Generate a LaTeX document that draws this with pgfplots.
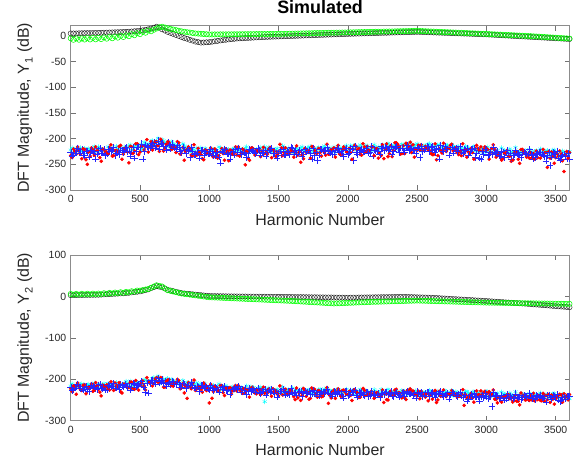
\documentclass[border=0pt]{standalone}
\usepackage{fontspec}
\setmainfont{Liberation Sans}
\usepackage{pgfplots}
\usepackage{pgfplotstable}
\pgfplotsset{compat=1.18}
\definecolor{mgreen}{rgb}{0,1,0}
\definecolor{mcyan}{rgb}{0,1,1}
\definecolor{mred}{rgb}{1,0,0}
\definecolor{mblue}{rgb}{0,0,1}

% k  black  green  cyan  red  blue   (top panel, Y1)
\pgfplotstableread{
k b g c r u
0 5 -4.5 -222 -233 -227
20 5 -7.5 -227 -220 -232
40 5 -4.6 -219 -230 -225
60 5.3 -7.4 -223 -224 -228
80 5.4 -4.7 -224 -239 -221
100 5.5 -7.0 -219 -221 -233
120 5.6 -4.1 -227 -250 -225
140 5.7 -6.8 -222 -234 -227
160 5.8 -3.7 -219 -222 -229
180 5.9 -6.6 -224 -216 -240
200 6 -3.5 -216 -229 -222
220 6.2 -6.1 -223 -244 -228
240 6.4 -2.7 -222 -221 -221
260 6.6 -5.3 -226 -226 -230
280 6.8 -1.9 -219 -218 -224
300 7 -4.5 -218 -234 -222
320 7.2 -0.9 -224 -223 -233
340 7.4 -3.3 -220 -229 -225
360 7.6 0.3 -216 -213 -222
380 7.8 -2.1 -222 -230 -227
400 8 1.5 -220 -223 -217
420 8.4 -0.5 -214 -247 -224
440 8.8 3.5 -222 -216 -226
460 9.2 1.5 -215 -224 -238
480 9.6 5.5 -216 -210 -216
500 10 3.5 -211 -226 -217
520 11 7.9 -219 -214 -240
540 12 6.3 -211 -216 -212
560 13 10.7 -211 -226 -217
580 14.5 9.1 -205 -206 -213
600 16 12 -210 -214 -207
620 18 14.5 -205 -206 -214
640 16 17 -209 -225 -220
660 13 18 -202 -207 -209
680 10.5 16.5 -208 -219 -214
700 8 15 -211 -206 -208
720 6 13.8 -215 -216 -220
740 4 12.6 -210 -215 -216
760 2 11.4 -214 -227 -220
780 0 10.2 -214 -208 -217
800 -2 9 -222 -225 -228
820 -4 8.2 -214 -242 -222
840 -5.5 7.4 -219 -221 -220
860 -7.5 6.6 -223 -219 -237
880 -9 5.8 -220 -234 -225
900 -11 5 -227 -227 -231
920 -12 4.6 -224 -219 -227
940 -13 4.2 -218 -231 -223
960 -12.7 3.8 -225 -241 -232
980 -12.3 3.4 -222 -223 -228
1000 -12 3 -228 -228 -229
1020 -11.2 3 -223 -233 -225
1040 -10.4 3.1 -221 -220 -234
1060 -9.6 3.1 -226 -238 -226
1080 -8.8 3.2 -219 -226 -247
1100 -8 3.2 -223 -229 -226
1120 -7.4 3.2 -226 -220 -223
1140 -6.8 3.3 -221 -243 -229
1160 -6.2 3.3 -224 -223 -227
1180 -5.6 3.4 -219 -228 -232
1200 -5 3.4 -221 -232 -226
1220 -4.7 3.4 -222 -234 -227
1240 -4.4 3.5 -221 -220 -226
1260 -4.1 3.5 -218 -251 -228
1280 -3.8 3.6 -223 -238 -229
1300 -3.5 3.6 -224 -219 -221
1320 -3.2 3.6 -222 -224 -223
1340 -2.9 3.7 -221 -222 -227
1360 -2.6 3.7 -226 -220 -223
1380 -2.3 3.8 -223 -224 -228
1400 -2 3.8 -216 -229 -222
1420 -1.8 3.8 -221 -230 -226
1440 -1.6 3.9 -223 -217 -223
1460 -1.4 3.9 -220 -221 -229
1480 -1.2 4 -222 -235 -228
1500 -1 4 -225 -225 -229
1520 -0.8 4.1 -219 -218 -232
1540 -0.6 4.2 -218 -227 -231
1560 -0.4 4.4 -226 -226 -224
1580 -0.2 4.5 -227 -227 -231
1600 0 4.6 -222 -225 -219
1620 0.2 4.7 -221 -226 -222
1640 0.4 4.8 -221 -232 -227
1660 0.6 5 -218 -246 -226
1680 0.8 5.1 -223 -239 -230
1700 1 5.2 -221 -227 -224
1720 1.2 5.3 -216 -227 -222
1740 1.4 5.4 -223 -215 -239
1760 1.6 5.6 -224 -223 -233
1780 1.8 5.7 -219 -228 -242
1800 2 5.8 -223 -227 -220
1820 2.2 5.9 -218 -223 -224
1840 2.4 6 -218 -232 -223
1860 2.6 6.2 -220 -230 -222
1880 2.8 6.3 -222 -221 -225
1900 3 6.4 -216 -218 -230
1920 3.2 6.5 -220 -219 -219
1940 3.4 6.6 -222 -230 -227
1960 3.6 6.8 -226 -221 -230
1980 3.8 6.9 -215 -220 -222
2000 4 7 -225 -228 -231
2020 4.2 7.1 -214 -227 -219
2040 4.3 7.2 -214 -221 -242
2060 4.5 7.4 -222 -215 -227
2080 4.6 7.5 -216 -219 -226
2100 4.8 7.6 -216 -232 -220
2120 5 7.7 -222 -216 -226
2140 5.1 7.8 -214 -215 -222
2160 5.3 8 -222 -223 -227
2180 5.4 8.1 -220 -216 -234
2200 5.6 8.2 -222 -222 -223
2220 5.8 8.3 -216 -238 -224
2240 5.9 8.4 -218 -233 -215
2260 6.1 8.6 -218 -239 -223
2280 6.2 8.7 -213 -210 -219
2300 6.4 8.8 -214 -229 -220
2320 6.6 8.9 -219 -235 -230
2340 6.7 9 -214 -208 -217
2360 6.9 9.2 -216 -211 -219
2380 7 9.3 -218 -230 -218
2400 7.2 9.4 -212 -214 -226
2420 7.4 9.5 -212 -209 -218
2440 7.5 9.6 -214 -215 -223
2460 7.7 9.8 -213 -227 -218
2480 7.8 9.9 -214 -236 -222
2500 8 10 -210 -223 -216
2520 7.8 9.8 -214 -223 -237
2540 7.6 9.5 -220 -221 -225
2560 7.4 9.3 -214 -215 -220
2580 7.2 9 -211 -222 -217
2600 7 8.8 -213 -229 -217
2620 6.8 8.6 -216 -231 -222
2640 6.6 8.3 -213 -241 -221
2660 6.4 8.1 -212 -219 -240
2680 6.2 7.8 -216 -228 -221
2700 6 7.6 -217 -220 -214
2720 5.8 7.4 -213 -218 -220
2740 5.6 7.1 -218 -213 -221
2760 5.4 6.9 -215 -224 -228
2780 5.2 6.6 -219 -218 -218
2800 5 6.4 -216 -231 -222
2820 4.8 6.2 -220 -233 -226
2840 4.6 5.9 -219 -229 -221
2860 4.4 5.7 -221 -236 -218
2880 4.2 5.4 -220 -229 -225
2900 4 5.2 -223 -227 -220
2920 3.8 5 -223 -219 -237
2940 3.6 4.7 -225 -219 -222
2960 3.4 4.5 -224 -216 -240
2980 3.2 4.2 -227 -221 -231
3000 3 4 -224 -219 -221
3020 2.7 3.7 -224 -240 -231
3040 2.4 3.5 -226 -219 -231
3060 2.1 3.2 -222 -221 -227
3080 1.8 2.9 -223 -228 -224
3100 1.5 2.7 -229 -232 -235
3120 1.2 2.4 -226 -238 -226
3140 0.9 2.1 -228 -228 -226
3160 0.6 1.9 -227 -235 -232
3180 0.3 1.6 -228 -244 -239
3200 0 1.3 -228 -228 -232
3220 -0.3 1.1 -226 -225 -229
3240 -0.6 0.8 -227 -248 -232
3260 -0.9 0.5 -227 -221 -227
3280 -1.2 0.3 -223 -228 -229
3300 -1.5 0 -230 -230 -231
3320 -1.8 -0.3 -226 -227 -231
3340 -2.1 -0.7 -230 -229 -239
3360 -2.4 -1 -223 -224 -231
3380 -2.7 -1.3 -226 -228 -227
3400 -3 -1.7 -227 -233 -230
3420 -3.3 -2 -225 -228 -235
3440 -3.6 -2.3 -223 -256 -233
3460 -3.9 -2.7 -227 -238 -252
3480 -4.2 -3 -222 -235 -227
3500 -4.5 -3.3 -226 -237 -231
3520 -4.8 -3.7 -234 -234 -238
3540 -5.1 -4 -235 -230 -239
3560 -5.4 -4.3 -227 -264 -230
3580 -5.7 -4.7 -226 -225 -239
3600 -6 -5 -225 -227 -239
}\dataA

% second set of noise points between the rows above (top panel)
\pgfplotstableread{
h c r u
10 -218 -237 -234
30 -226 -224 -228
50 -222 -216 -218
70 -218 -230 -228
90 -227 -220 -232
110 -222 -241 -224
130 -219 -226 -236
150 -224 -218 -222
170 -215 -232 -225
190 -225 -223 -230
210 -219 -237 -219
230 -222 -220 -228
250 -227 -226 -233
270 -216 -229 -221
290 -219 -212 -225
310 -222 -233 -216
330 -215 -223 -228
350 -223 -215 -231
370 -219 -240 -222
390 -216 -219 -219
410 -218 -226 -225
430 -212 -215 -234
450 -221 -229 -216
470 -213 -210 -225
490 -215 -231 -216
510 -219 -215 -210
530 -207 -222 -225
550 -211 -202 -215
570 -213 -216 -217
590 -204 -222 -209
610 -209 -206 -218
630 -199 -214 -204
650 -210 -201 -210
670 -204 -224 -214
690 -208 -211 -222
710 -216 -207 -212
730 -206 -221 -210
750 -213 -217 -218
770 -212 -206 -212
790 -219 -230 -225
810 -210 -217 -216
830 -219 -224 -229
850 -216 -216 -222
870 -226 -232 -216
890 -222 -212 -231
910 -218 -232 -228
930 -226 -227 -238
950 -222 -239 -222
970 -219 -222 -225
990 -228 -229 -230
1010 -224 -218 -220
1030 -221 -236 -233
1050 -227 -225 -227
1070 -216 -233 -236
1090 -225 -219 -224
1110 -219 -242 -220
1130 -222 -225 -230
1150 -230 -222 -239
1170 -220 -230 -225
1190 -223 -216 -221
1210 -223 -216 -218
1230 -221 -230 -231
1250 -226 -222 -227
1270 -216 -225 -237
1290 -224 -242 -221
1310 -219 -218 -224
1330 -228 -232 -229
1350 -222 -224 -219
1370 -217 -235 -232
1390 -225 -217 -226
1410 -220 -227 -234
1430 -217 -220 -222
1450 -226 -237 -219
1470 -222 -225 -229
1490 -219 -230 -238
1510 -225 -211 -224
1530 -214 -233 -220
1550 -223 -218 -232
1570 -218 -228 -226
1590 -221 -222 -216
1610 -229 -236 -227
1630 -219 -214 -231
1650 -222 -226 -223
1670 -216 -232 -235
1690 -224 -219 -221
1710 -219 -223 -224
1730 -216 -238 -229
1750 -225 -216 -218
1770 -220 -228 -227
1790 -217 -219 -232
1810 -222 -234 -221
1830 -214 -226 -225
1850 -224 -211 -216
1870 -218 -230 -228
1890 -221 -222 -231
1910 -225 -236 -222
1930 -215 -213 -219
1950 -218 -231 -225
1970 -221 -216 -235
1990 -214 -226 -218
2010 -222 -219 -228
2030 -219 -240 -221
2050 -215 -213 -215
2070 -217 -221 -231
2090 -212 -231 -222
2110 -222 -210 -225
2130 -214 -226 -218
2150 -218 -222 -228
2170 -223 -216 -215
2190 -212 -233 -222
2210 -217 -219 -225
2230 -220 -228 -231
2250 -212 -212 -219
2270 -218 -220 -216
2290 -209 -235 -222
2310 -221 -214 -215
2330 -213 -223 -225
2350 -215 -208 -215
2370 -222 -216 -227
2390 -211 -229 -218
2410 -213 -229 -226
2430 -219 -211 -213
2450 -208 -207 -220
2470 -217 -212 -223
2490 -212 -221 -229
2510 -215 -213 -218
2530 -223 -212 -215
2550 -213 -221 -221
2570 -216 -218 -214
2590 -210 -223 -225
2610 -218 -231 -215
2630 -214 -210 -227
2650 -212 -233 -219
2670 -221 -224 -212
2690 -216 -209 -225
2710 -213 -225 -221
2730 -219 -219 -232
2750 -211 -211 -216
2770 -222 -222 -220
2790 -216 -227 -225
2810 -219 -225 -215
2830 -225 -210 -229
2850 -215 -222 -223
2870 -218 -226 -232
2890 -222 -219 -221
2910 -215 -240 -218
2930 -223 -213 -228
2950 -221 -223 -238
2970 -218 -224 -224
2990 -221 -216 -221
3010 -216 -221 -233
3030 -226 -227 -227
3050 -219 -212 -217
3070 -224 -236 -229
3090 -229 -231 -233
3110 -218 -242 -225
3130 -223 -228 -237
3150 -226 -223 -223
3170 -220 -234 -228
3190 -226 -242 -233
3210 -217 -225 -222
3230 -229 -240 -231
3250 -223 -221 -237
3270 -225 -226 -226
3290 -232 -236 -230
3310 -221 -238 -221
3330 -226 -237 -233
3350 -225 -240 -237
3370 -230 -237 -229
3390 -220 -238 -226
3410 -228 -221 -232
3430 -224 -227 -243
3450 -233 -225 -226
3470 -227 -226 -236
3490 -222 -248 -229
3510 -230 -229 -224
3530 -227 -224 -241
3550 -224 -243 -232
3570 -233 -232 -235
3590 -229 -238 -229
}\noiseA

% k  black  green  cyan  red  blue   (bottom panel, Y2)
\pgfplotstableread{
k b g c r u
0 3 6 -216 -223 -219
20 3.1 4.1 -221 -216 -224
40 3.2 6.2 -214 -236 -216
60 3.3 4.3 -218 -217 -221
80 3.4 6.4 -211 -227 -222
100 3.5 4.5 -223 -213 -217
120 3.6 6.6 -214 -221 -224
140 3.7 4.7 -216 -218 -219
160 3.8 6.8 -219 -229 -217
180 3.9 4.9 -221 -208 -222
200 4 7 -212 -224 -214
220 4.4 5.4 -218 -240 -221
240 4.8 7.8 -210 -216 -219
260 5.2 6.2 -220 -213 -224
280 5.6 8.6 -214 -226 -217
300 6 7 -212 -218 -216
320 6.4 9.4 -222 -209 -221
340 6.8 7.8 -214 -221 -217
360 7.2 10.2 -211 -230 -213
380 7.6 8.6 -216 -212 -219
400 8 11 -205 -216 -216
420 8.8 9.8 -212 -220 -210
440 9.6 12.6 -215 -207 -219
460 10.4 11.4 -215 -224 -212
480 11.2 14.2 -207 -212 -215
500 12 14 -208 -215 -210
520 13.7 15.3 -213 -204 -217
540 15.3 16.7 -202 -226 -232
560 17 18 -206 -204 -233
580 20 21 -203 -208 -203
600 22.5 24 -196 -210 -207
620 25 27 -203 -196 -202
640 23.5 25.5 -211 -207 -208
660 22 24 -200 -203 -201
680 19 19.5 -204 -219 -206
700 16 15 -198 -202 -209
720 14.4 13.4 -210 -209 -213
740 12.8 11.8 -205 -217 -207
760 11.2 10.2 -210 -208 -212
780 9.6 8.6 -206 -203 -211
800 8 7 -217 -217 -219
820 7.3 6.1 -211 -233 -211
840 6.6 5.2 -208 -246 -215
860 5.9 4.3 -217 -217 -218
880 5.2 3.4 -211 -210 -214
900 4.5 2.5 -217 -227 -221
920 3.8 1.6 -214 -217 -219
940 3.1 0.7 -211 -224 -214
960 2.4 -0.2 -220 -209 -221
980 1.7 -1.1 -217 -227 -219
1000 1 -2 -219 -257 -226
1020 0.9 -2.3 -215 -246 -221
1040 0.8 -2.6 -225 -217 -220
1060 0.7 -2.9 -217 -226 -225
1080 0.6 -3.2 -225 -215 -219
1100 0.5 -3.5 -219 -232 -224
1120 0.4 -3.8 -216 -221 -227
1140 0.3 -4.1 -223 -225 -223
1160 0.2 -4.4 -221 -236 -226
1180 0.1 -4.7 -227 -219 -222
1200 0 -5 -221 -228 -224
1220 -0.1 -5.3 -222 -224 -225
1240 -0.1 -5.6 -222 -234 -225
1260 -0.2 -5.9 -224 -232 -222
1280 -0.3 -6.2 -226 -224 -228
1300 -0.3 -6.5 -218 -222 -229
1320 -0.4 -6.8 -220 -223 -227
1340 -0.5 -7.1 -225 -235 -227
1360 -0.5 -7.4 -221 -226 -232
1380 -0.6 -7.7 -226 -225 -229
1400 -0.7 -8 -254 -234 -224
1420 -0.7 -8.3 -226 -233 -229
1440 -0.8 -8.6 -223 -228 -231
1460 -0.9 -8.9 -230 -223 -229
1480 -0.9 -9.2 -229 -227 -231
1500 -1 -9.5 -230 -240 -234
1520 -1.1 -9.8 -233 -225 -228
1540 -1.2 -10.1 -233 -225 -228
1560 -1.2 -10.4 -226 -233 -236
1580 -1.3 -10.7 -233 -226 -237
1600 -1.4 -11 -221 -232 -232
1620 -1.5 -11.4 -225 -249 -232
1640 -1.6 -11.8 -230 -245 -232
1660 -1.6 -12.2 -229 -251 -229
1680 -1.7 -12.6 -233 -222 -234
1700 -1.8 -13 -228 -241 -233
1720 -1.9 -13.4 -226 -248 -228
1740 -2 -13.8 -234 -221 -235
1760 -2 -14.2 -237 -224 -236
1780 -2.1 -14.6 -234 -243 -231
1800 -2.2 -15 -224 -238 -235
1820 -2.3 -15.4 -229 -241 -231
1840 -2.4 -15.8 -228 -227 -231
1860 -2.4 -16.2 -227 -258 -233
1880 -2.5 -16.6 -230 -245 -235
1900 -2.6 -17 -236 -226 -230
1920 -2.7 -16.7 -225 -231 -234
1940 -2.8 -16.5 -233 -229 -236
1960 -2.8 -16.2 -236 -227 -240
1980 -2.9 -15.9 -228 -231 -229
2000 -3 -15.6 -237 -237 -239
2020 -2.9 -15.4 -226 -239 -229
2040 -2.8 -15.1 -235 -226 -230
2060 -2.7 -14.8 -235 -230 -238
2080 -2.6 -14.5 -234 -244 -232
2100 -2.5 -14.2 -228 -234 -232
2120 -2.4 -14 -235 -227 -239
2140 -2.3 -13.7 -231 -236 -231
2160 -2.2 -13.4 -236 -235 -239
2180 -2.1 -13.1 -235 -236 -237
2200 -2 -13 -232 -234 -239
2220 -1.9 -12.8 -233 -235 -233
2240 -1.8 -12.6 -225 -241 -236
2260 -1.7 -12.4 -234 -256 -237
2280 -1.6 -12.2 -230 -249 -232
2300 -1.5 -12 -231 -238 -233
2320 -1.4 -11.8 -235 -238 -239
2340 -1.3 -11.6 -229 -226 -234
2360 -1.2 -11.4 -231 -234 -236
2380 -1.1 -11.2 -230 -239 -238
2400 -1 -11 -238 -228 -232
2420 -1.2 -10.8 -230 -249 -232
2440 -1.4 -10.6 -235 -228 -234
2460 -1.6 -10.4 -230 -229 -233
2480 -1.8 -10.2 -234 -236 -234
2500 -2 -10 -228 -240 -230
2520 -2.2 -10.2 -238 -247 -235
2540 -2.4 -10.4 -238 -237 -241
2560 -2.6 -10.6 -233 -243 -235
2580 -2.8 -10.8 -230 -252 -232
2600 -3 -11 -230 -236 -234
2620 -3.4 -11.2 -235 -233 -237
2640 -3.8 -11.4 -234 -256 -234
2660 -4.2 -11.6 -238 -229 -233
2680 -4.6 -11.8 -234 -236 -237
2700 -5 -12 -227 -238 -238
2720 -5.4 -12.2 -232 -235 -233
2740 -5.8 -12.4 -233 -236 -238
2760 -6.2 -12.6 -240 -232 -235
2780 -6.6 -12.8 -230 -236 -239
2800 -7 -13 -234 -241 -236
2820 -7.4 -13.2 -237 -235 -239
2840 -7.8 -13.4 -232 -263 -238
2860 -8.2 -13.6 -229 -245 -252
2880 -8.6 -13.8 -236 -243 -239
2900 -9 -14 -231 -245 -242
2920 -9.4 -14.2 -240 -241 -242
2940 -9.8 -14.4 -232 -237 -243
2960 -10.2 -14.6 -241 -228 -242
2980 -10.6 -14.8 -240 -232 -244
3000 -11 -15 -230 -234 -241
3020 -11.5 -15.1 -241 -230 -242
3040 -11.9 -15.2 -241 -236 -265
3060 -12.4 -15.3 -236 -248 -239
3080 -12.9 -15.4 -233 -257 -240
3100 -13.3 -15.5 -244 -244 -246
3120 -13.8 -15.6 -235 -244 -243
3140 -14.3 -15.7 -236 -243 -246
3160 -14.7 -15.8 -241 -237 -244
3180 -15.2 -15.9 -241 -244 -245
3200 -15.7 -16 -241 -251 -245
3220 -16.1 -16.1 -238 -253 -243
3240 -16.6 -16.2 -240 -262 -243
3260 -17.1 -16.3 -236 -241 -244
3280 -17.5 -16.4 -238 -250 -240
3300 -18 -16.5 -240 -242 -247
3320 -18.5 -16.6 -240 -239 -243
3340 -19.1 -16.7 -247 -234 -246
3360 -19.6 -16.8 -239 -244 -239
3380 -20.1 -16.9 -236 -239 -243
3400 -20.7 -17 -239 -252 -244
3420 -21.2 -17.1 -243 -253 -241
3440 -21.7 -17.2 -241 -249 -239
3460 -22.3 -17.3 -241 -256 -243
3480 -22.8 -17.4 -235 -248 -238
3500 -23.3 -17.5 -240 -247 -243
3520 -23.9 -17.6 -246 -239 -250
3540 -24.4 -17.7 -247 -238 -251
3560 -24.9 -17.8 -238 -235 -243
3580 -25.5 -17.9 -247 -239 -242
3600 -26 -18 -247 -237 -241
}\dataB

% second set of noise points between the rows above (bottom panel)
\pgfplotstableread{
h c r u
10 -211 -230 -227
30 -219 -217 -221
50 -215 -209 -211
70 -212 -224 -222
90 -221 -214 -226
110 -216 -235 -218
130 -212 -219 -229
150 -217 -211 -215
170 -209 -226 -219
190 -219 -217 -224
210 -213 -231 -213
230 -216 -214 -222
250 -220 -219 -226
270 -210 -223 -215
290 -213 -206 -219
310 -216 -227 -210
330 -208 -216 -221
350 -216 -208 -224
370 -212 -233 -215
390 -209 -212 -212
410 -210 -218 -217
430 -204 -207 -226
450 -214 -222 -209
470 -206 -203 -218
490 -210 -226 -211
510 -214 -210 -205
530 -201 -216 -219
550 -205 -196 -209
570 -206 -209 -210
590 -198 -216 -203
610 -202 -199 -211
630 -192 -207 -197
650 -205 -196 -205
670 -199 -219 -209
690 -202 -205 -216
710 -210 -201 -206
730 -200 -215 -204
750 -206 -210 -211
770 -206 -200 -206
790 -212 -223 -218
810 -203 -210 -209
830 -212 -217 -222
850 -208 -208 -214
870 -217 -223 -207
890 -212 -202 -221
910 -208 -222 -218
930 -217 -218 -229
950 -214 -231 -214
970 -211 -214 -217
990 -221 -222 -223
1010 -218 -212 -214
1030 -215 -230 -227
1050 -222 -220 -222
1070 -211 -228 -231
1090 -221 -215 -220
1110 -216 -239 -217
1130 -219 -222 -227
1150 -228 -220 -237
1170 -218 -228 -223
1190 -222 -215 -220
1210 -222 -215 -217
1230 -220 -229 -230
1250 -226 -222 -227
1270 -216 -225 -237
1290 -225 -243 -222
1310 -220 -219 -225
1330 -229 -233 -230
1350 -224 -226 -221
1370 -219 -237 -234
1390 -227 -219 -228
1410 -224 -231 -238
1430 -221 -224 -226
1450 -230 -241 -223
1470 -227 -230 -234
1490 -224 -235 -243
1510 -230 -216 -229
1530 -219 -238 -225
1550 -229 -224 -238
1570 -224 -234 -232
1590 -227 -228 -222
1610 -235 -242 -233
1630 -226 -221 -238
1650 -229 -233 -230
1670 -223 -239 -242
1690 -231 -226 -228
1710 -227 -231 -232
1730 -224 -246 -237
1750 -233 -224 -226
1770 -228 -236 -235
1790 -225 -227 -240
1810 -230 -242 -229
1830 -223 -235 -234
1850 -233 -220 -225
1870 -227 -239 -237
1890 -230 -231 -240
1910 -235 -246 -232
1930 -225 -223 -229
1950 -228 -241 -235
1970 -231 -226 -245
1990 -224 -236 -228
2010 -232 -229 -238
2030 -230 -251 -232
2050 -227 -225 -227
2070 -229 -233 -243
2090 -224 -243 -234
2110 -234 -222 -237
2130 -227 -239 -231
2150 -231 -235 -241
2170 -236 -229 -228
2190 -225 -246 -235
2210 -230 -232 -238
2230 -233 -241 -244
2250 -226 -226 -233
2270 -233 -235 -231
2290 -224 -250 -237
2310 -236 -229 -230
2330 -229 -239 -241
2350 -231 -224 -231
2370 -238 -232 -243
2390 -227 -245 -234
2410 -229 -245 -242
2430 -235 -227 -229
2450 -224 -223 -236
2470 -233 -228 -239
2490 -228 -237 -245
2510 -231 -229 -234
2530 -240 -229 -232
2550 -230 -238 -238
2570 -233 -235 -231
2590 -227 -240 -242
2610 -235 -248 -232
2630 -231 -227 -244
2650 -229 -250 -236
2670 -238 -241 -229
2690 -233 -226 -242
2710 -230 -242 -238
2730 -235 -235 -248
2750 -227 -227 -232
2770 -238 -238 -236
2790 -232 -243 -241
2810 -235 -241 -231
2830 -240 -225 -244
2850 -230 -237 -238
2870 -233 -241 -247
2890 -237 -234 -236
2910 -230 -255 -233
2930 -238 -228 -243
2950 -235 -237 -252
2970 -232 -238 -238
2990 -234 -229 -234
3010 -229 -234 -246
3030 -240 -241 -241
3050 -233 -226 -231
3070 -237 -249 -242
3090 -242 -244 -246
3110 -231 -255 -238
3130 -236 -241 -250
3150 -240 -237 -237
3170 -233 -247 -241
3190 -239 -255 -246
3210 -230 -238 -235
3230 -242 -253 -244
3250 -235 -233 -249
3270 -238 -239 -239
3290 -245 -249 -243
3310 -234 -251 -234
3330 -239 -250 -246
3350 -237 -252 -249
3370 -242 -249 -241
3390 -233 -251 -239
3410 -241 -234 -245
3430 -236 -239 -255
3450 -245 -237 -238
3470 -239 -238 -248
3490 -234 -260 -241
3510 -243 -242 -237
3530 -239 -236 -253
3550 -236 -255 -244
3570 -245 -244 -247
3590 -241 -250 -241
}\noiseB

\pgfplotsset{
  mlstyle/.style={
    scale only axis,
    width=498.8bp,
    xmin=0, xmax=3600,
    xtick={0,500,...,3500},
    tick align=inside,
    major tick length=5bp,
    axis line style={black!45, line width=0.5pt},
    every tick/.style={black!55, line width=0.5pt},
    tick label style={font=\fontsize{10.5}{12}\selectfont, text=black!85},
    /pgf/number format/assume math mode=true,
    /pgf/number format/1000 sep={},
    scaled ticks=false,
    xticklabel style={yshift=-2bp},
    yticklabel style={xshift=-1bp},
    label style={font=\fontsize{16}{18}\selectfont, text=black!85},
    xlabel={Harmonic Number},
    clip=false,
  },
  blk/.style={only marks, mark=o, mark size=2.6bp, black, mark options={line width=0.35pt}},
  grn/.style={only marks, mark=o, mark size=2.6bp, mgreen, mark options={line width=0.55pt}},
  cyn/.style={only marks, mark=asterisk, mark size=2.4bp, mcyan, mark options={line width=0.4pt}},
  rdd/.style={only marks, mark=*, mark size=1.6bp, mred, mark options={draw=none, fill=mred}},
  blu/.style={only marks, mark=+, mark size=3.3bp, mblue!85!white, mark options={line width=0.35pt}},
}

\begin{document}
\begin{tikzpicture}
\useasboundingbox (0,0) rectangle (574bp,461bp);

\begin{axis}[mlstyle,
  at={(70.7bp,271bp)}, anchor=south west,
  height=164.3bp,
  ymin=-300, ymax=20,
  ytick={-300,-250,...,0},
  xlabel style={at={(axis description cs:0.5,-0.1826)}, anchor=center},
  ylabel style={at={(axis description cs:-0.0916,0.5)}, anchor=center, rotate=0},
  ylabel={DFT Magnitude, Y\raisebox{-0.45ex}{\fontsize{11}{11}\selectfont 1} (dB)},
  title={\bfseries Simulated},
  title style={at={(axis description cs:0.5,1.0755)}, anchor=center, font=\fontsize{18}{20}\selectfont},
]
\addplot[blk] table[x=k, y=b] {\dataA};
\addplot[grn] table[x=k, y=g] {\dataA};
\addplot[cyn] table[x=k, y=c] {\dataA};
\addplot[cyn] table[x=h, y=c] {\noiseA};
\addplot[rdd] table[x=k, y=r] {\dataA};
\addplot[blu] table[x=k, y=u] {\dataA};
\addplot[rdd] table[x=h, y=r] {\noiseA};
\addplot[blu] table[x=h, y=u] {\noiseA};
\end{axis}

\begin{axis}[mlstyle,
  at={(70.7bp,40.3bp)}, anchor=south west,
  height=165.7bp,
  ymin=-300, ymax=100,
  ytick={-300,-200,...,100},
  xlabel style={at={(axis description cs:0.5,-0.177)}, anchor=center},
  ylabel style={at={(axis description cs:-0.0916,0.5)}, anchor=center, rotate=0},
  ylabel={DFT Magnitude, Y\raisebox{-0.45ex}{\fontsize{11}{11}\selectfont 2} (dB)},
]
\addplot[blk] table[x=k, y=b] {\dataB};
\addplot[grn] table[x=k, y=g] {\dataB};
\addplot[cyn] table[x=k, y=c] {\dataB};
\addplot[cyn] table[x=h, y=c] {\noiseB};
\addplot[rdd] table[x=k, y=r] {\dataB};
\addplot[blu] table[x=k, y=u] {\dataB};
\addplot[rdd] table[x=h, y=r] {\noiseB};
\addplot[blu] table[x=h, y=u] {\noiseB};
\end{axis}
\end{tikzpicture}
\end{document}
